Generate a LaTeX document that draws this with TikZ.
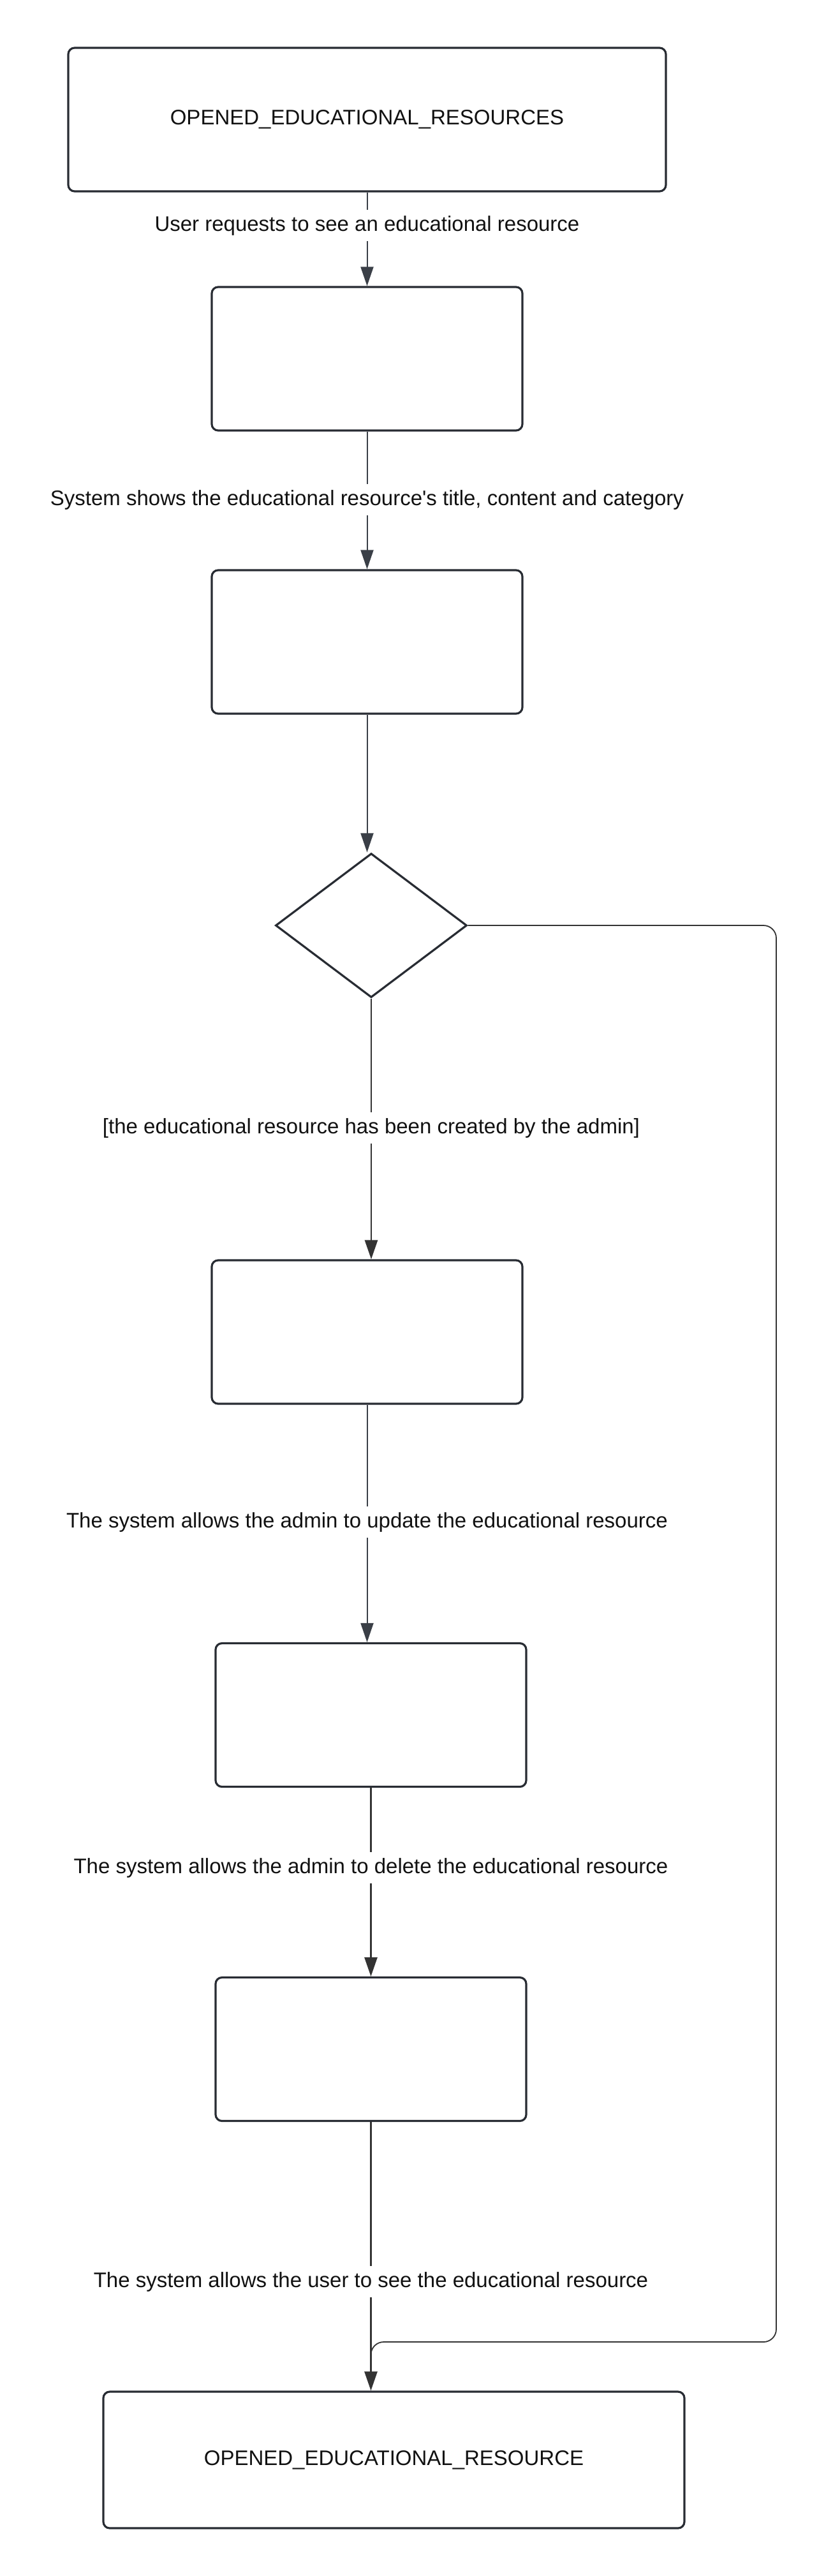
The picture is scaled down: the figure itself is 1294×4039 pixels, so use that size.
\documentclass[tikz,border=0pt]{standalone}
\usepackage{fontspec}
\setmainfont{Liberation Sans}
\usetikzlibrary{arrows.meta,shapes.geometric}
\definecolor{boxc}{HTML}{282C33}
\definecolor{linec}{HTML}{3A3F47}
\definecolor{thickc}{HTML}{333333}
\definecolor{txtc}{HTML}{111111}
\begin{document}
\begin{tikzpicture}[x=1pt,y=-1pt,
  stepbox/.style={draw=boxc,line width=3.2pt,rounded corners=10pt,
    minimum width=487pt,minimum height=225pt,inner sep=0pt,outer sep=1.6pt,
    font=\fontsize{33}{40}\selectfont,text=txtc},
  statebox/.style={stepbox},
  decision/.style={diamond,draw=boxc,line width=3.2pt,minimum width=300pt,
    minimum height=226pt,inner sep=0pt,outer sep=1.6pt},
  thinarr/.style={draw=linec,line width=2pt,-{Triangle[length=30pt,width=20pt]}},
  thickarr/.style={draw=thickc,line width=2.7pt,-{Triangle[length=30pt,width=20pt]}},
  loopline/.style={draw=thickc,line width=1.8pt,rounded corners=20pt},
  lbl/.style={fill=white,inner xsep=4pt,inner ysep=9pt,anchor=base,
    text height=24pt,text depth=7pt,font=\fontsize{33}{40}\selectfont,text=txtc}
]
\useasboundingbox (0,0) rectangle (1294,4039);
\fill[white] (0,0) rectangle (1294,4039);

% nodes
\node[statebox,minimum width=937pt] (top) at (575.5,187.5) {OPENED\_EDUCATIONAL\_RESOURCES};
\node[stepbox] (b2) at (575.5,562.5) {};
\node[stepbox] (b3) at (575.5,1006.5) {};
\node[decision] (dia) at (582,1451) {};
\node[stepbox] (b4) at (575.5,2088.5) {};
\node[stepbox] (b5) at (581.5,2689) {};
\node[stepbox] (b6) at (581.5,3213) {};
\node[statebox,minimum width=911pt,minimum height=214pt] (bot) at (617.5,3857) {OPENED\_EDUCATIONAL\_RESOURCE};

% connectors
\draw[thinarr] (top.south) -- (b2.north);
\draw[thinarr] (b2.south) -- (b3.north);
\draw[thinarr] (b3.south) -- (b3.south |- dia.north);
\draw[thickarr] (dia.south) -- (dia.south |- b4.north);
\draw[thinarr] (b4.south) -- (b4.south |- b5.north);
\draw[thickarr] (b5.south) -- (b6.north);
\draw[thickarr] (b6.south) -- (b6.south |- bot.north);

\coordinate (loopA) at (1217,1451);
\coordinate (loopB) at (1217,3672);
\coordinate (loopC) at (581.5,3672);
\coordinate (loopEnd) at (581.5,3718);
\draw[loopline] (dia.east) -- (loopA) -- (loopB) -- (loopC) -- (loopEnd);

% labels
\node[lbl] (l1) at (575.5,362) {User requests to see an educational resource};
\node[lbl] (l2) at (575.5,792) {System shows the educational resource\textquotesingle s title, content and category};
\node[lbl] (l3) at (582,1777) {[the educational resource has been created by the admin]};
\node[lbl] (l4) at (575.5,2395) {The system allows the admin to update the educational resource};
\node[lbl] (l5) at (581.5,2937) {The system allows the admin to delete the educational resource};
\node[lbl] (l6) at (581.5,3586) {The system allows the user to see the educational resource};
\end{tikzpicture}
\end{document}
